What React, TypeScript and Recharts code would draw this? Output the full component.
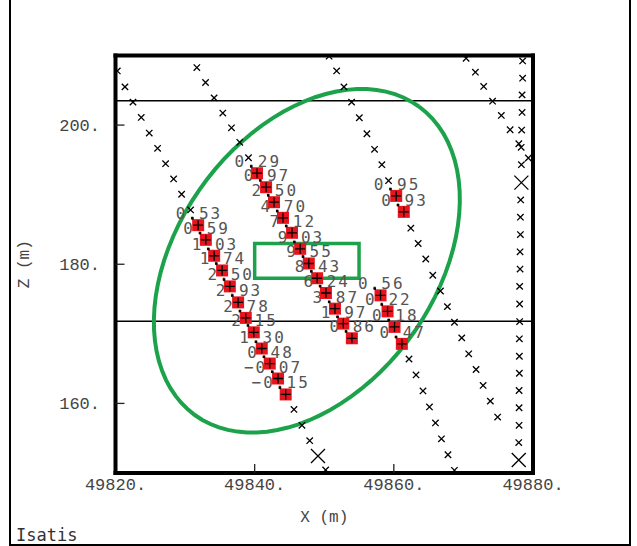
import React from "react";
import {
  ScatterChart,
  Scatter,
  XAxis,
  YAxis,
  ReferenceLine,
  ReferenceArea,
} from "recharts";

const W = 637;
const H = 546;

const X_TICKS = [49820, 49840, 49860, 49880];
const Z_TICKS = [160, 180, 200];

// sampled intervals along the holes: X, Z, grade
const SAMPLE_X = [
  49831.88, 49832.98, 49834.18, 49835.32, 49836.43, 49837.62, 49838.72, 49839.87, 49841.02, 49842.17, 49843.36, 49844.46,
  49840.34, 49841.64, 49842.78, 49844.07, 49845.37, 49846.54, 49847.78, 49848.98, 49850.24, 49851.54, 49852.74, 49853.97,
  49860.34, 49861.43,
  49858.09, 49859.1, 49860.1, 49861.15,
];
const SAMPLE_Z = [
  185.62, 183.51, 181.22, 179.11, 176.82, 174.52, 172.29, 170.22, 167.89, 165.73, 163.58, 161.29,
  193.08, 191.07, 188.92, 186.67, 184.52, 182.22, 180.11, 177.99, 175.87, 173.62, 171.47, 169.36,
  189.82, 187.53,
  175.53, 173.23, 171.0, 168.56,
];
const SAMPLE_VAL = [
  0.53, 0.59, 1.03, 1.74, 2.5, 2.93, 2.78, 2.15, 1.3, 0.48, -0.07, -0.15,
  0.29, 0.97, 2.5, 4.7, 7.12, 9.03, 9.55, 8.43, 6.24, 3.87, 1.97, 0.86,
  0.95, 0.93,
  0.56, 0.22, 0.18, 0.47,
];

// unsampled points along the holes
const POINT_X = [
  // hole A
  49820.26, 49821.36, 49822.51, 49823.7, 49824.85, 49826.05, 49827.2, 49828.35, 49829.5, 49830.79,
  49845.65, 49846.8, 49847.91, 49850.2,
  // hole B
  49831.69, 49832.94, 49834.17, 49835.42, 49836.67, 49837.86, 49839.11,
  // hole C
  49850.7, 49851.78, 49852.83, 49853.93, 49855.04, 49856.13, 49857.23, 49858.28, 49859.24,
  49862.44, 49863.5, 49864.59, 49865.6, 49866.7, 49867.7, 49868.71, 49869.76, 49870.76, 49871.82, 49872.83, 49873.87, 49874.92,
  // hole D
  49862.18, 49863.19, 49864.19, 49865.12, 49865.98, 49866.84, 49867.78, 49868.71,
  // hole E
  49870.39, 49871.72, 49872.91, 49874.19, 49875.45, 49876.71, 49877.96, 49879.33,
  // hole F
  49878.51, 49878.51, 49878.43, 49878.43, 49878.37, 49878.3, 49878.33, 49878.23, 49878.19, 49878.19, 49878.14,
  49878.14, 49878.08, 49878.08, 49878.08, 49878.04, 49878.04, 49878.04, 49878.0, 49878.0, 49878.0, 49877.95,
];
const POINT_Z = [
  207.78, 205.49, 203.3, 201.1, 198.85, 196.66, 194.45, 192.26, 190.06, 187.81,
  159.14, 156.85, 154.65, 150.44,
  208.27, 206.12, 203.91, 201.72, 199.61, 197.52, 195.31,
  209.9, 207.78, 205.49, 203.3, 201.05, 198.75, 196.52, 194.31, 192.01,
  185.19, 182.98, 180.75, 178.42, 176.16, 173.91, 171.66, 169.42, 167.13, 164.87, 162.58, 160.33, 158.04,
  166.38, 164.09, 161.79, 159.5, 157.2, 154.91, 152.62, 150.39,
  209.6, 207.6, 205.55, 203.44, 201.39, 199.33, 197.32, 195.27,
  209.22, 206.74, 204.34, 201.82, 199.28, 196.8, 194.31, 189.25, 186.77, 184.27, 181.79,
  179.31, 176.82, 174.29, 171.76, 169.28, 166.78, 164.34, 161.86, 159.38, 156.85, 154.37,
];

// hole ends (big crosses)
const END_X = [49849.1, 49878.33, 49877.95];
const END_Z = [152.44, 191.73, 151.87];

const LAYER_Z = [203.5, 171.8];
const BLOCK_X = [49840, 49855];
const BLOCK_Z = [178, 183];

// search ellipse
const ELL_CENTER = [49847.5, 180.5];
const ELL_RADII = [27.4, 18.5];
const ELL_ANGLE = 54;

const GREEN = "#1ca24b";
const MONO = "'Liberation Mono', monospace";
const LABEL_FONT = "'DejaVu Sans Mono', monospace";
const LABEL_SIZE = 16;
const LABEL_SPACING = 2;

const points = POINT_X.map((x, i) => ({ x, z: POINT_Z[i] }));
const ends = END_X.map((x, i) => ({ x, z: END_Z[i] }));
const samples = SAMPLE_X.map((x, i) => ({ x, z: SAMPLE_Z[i], v: SAMPLE_VAL[i] }));

const rot = (ELL_ANGLE * Math.PI) / 180;
const ellipse = Array.from({ length: 91 }, (_, i) => {
  const t = (i / 90) * 2 * Math.PI;
  const u = ELL_RADII[0] * Math.cos(t);
  const w = ELL_RADII[1] * Math.sin(t);
  return {
    x: ELL_CENTER[0] + u * Math.cos(rot) - w * Math.sin(rot),
    z: ELL_CENTER[1] + u * Math.sin(rot) + w * Math.cos(rot),
  };
});

const axisLine = { stroke: "#000", strokeWidth: 4, strokeLinecap: "square" as const };
const tickLine = { stroke: "#222", strokeWidth: 1.3 };
const tickText = { fontFamily: MONO, fontSize: 17, fill: "#444" };
const fmt = (v: number) => `${v}.`;

function Cross(props: any) {
  const { cx, cy } = props;
  const s = 3.2;
  return (
    <path
      d={`M${cx - s},${cy - s}L${cx + s},${cy + s}M${cx - s},${cy + s}L${cx + s},${cy - s}`}
      stroke="#000"
      strokeWidth={1.3}
    />
  );
}

function BigCross(props: any) {
  const { cx, cy } = props;
  const s = 7;
  return (
    <path
      d={`M${cx - s},${cy - s}L${cx + s},${cy + s}M${cx - s},${cy + s}L${cx + s},${cy - s}`}
      stroke="#000"
      strokeWidth={1.3}
    />
  );
}

function SampleLabel(props: any) {
  const { cx, cy, payload } = props;
  const label = payload.v.toFixed(2).replace("-", "\u2212");
  const adv = LABEL_SIZE * 0.602;
  const idx = label.indexOf(".");
  const dx = cx - 6;
  const dy = cy - 7;
  return (
    <text
      x={dx - idx * (adv + LABEL_SPACING) - adv / 2}
      y={dy + 1}
      fontFamily={LABEL_FONT}
      fontSize={LABEL_SIZE}
      letterSpacing={LABEL_SPACING}
      fill="#555"
    >
      {label}
    </text>
  );
}

function SampleBox(props: any) {
  const { cx, cy } = props;
  return (
    <g>
      <rect x={cx - 6} y={cy - 6} width={12} height={12} fill="#e8141d" />
      <path d={`M${cx - 5},${cy}H${cx + 5}M${cx},${cy - 5}V${cy + 5}`} stroke="#000" strokeWidth={1.3} />
      <rect x={cx - 7} y={cy - 8} width={2.5} height={2.5} fill="#000" />
    </g>
  );
}

const Empty = () => <g />;

export default function App() {
  return (
    <div style={{ position: "absolute", left: 0, top: 0, width: W, height: H, background: "#fff" }}>
      <svg width={W} height={H} style={{ position: "absolute", left: 0, top: 0 }}>
        <path d={`M10,0V545H630V0`} fill="none" stroke="#000" strokeWidth={2} />
        <text x={16} y={541} fontFamily={LABEL_FONT} fontSize={17} fill="#333">
          Isatis
        </text>
      </svg>
      <div style={{ position: "absolute", left: 0, top: 0 }}>
        <ScatterChart width={W} height={H} margin={{ top: 54.5, right: 103, bottom: 0, left: 0 }}>
          <XAxis
            dataKey="x"
            type="number"
            domain={[49820, 49880]}
            ticks={X_TICKS}
            tickFormatter={fmt}
            allowDataOverflow
            height={73}
            axisLine={axisLine}
            tickLine={tickLine}
            tickSize={-9}
            tickMargin={14}
            tick={tickText}
            label={{
              value: "X (m)",
              position: "insideBottom",
              offset: 24,
              style: { fontFamily: MONO, fontSize: 16, fill: "#444" },
            }}
          />
          <XAxis
            xAxisId="top"
            orientation="top"
            type="number"
            domain={[49820, 49880]}
            ticks={X_TICKS}
            allowDataOverflow
            height={1}
            axisLine={axisLine}
            tickLine={tickLine}
            tickSize={-9}
            tick={false}
          />
          <YAxis
            dataKey="z"
            type="number"
            domain={[150, 210]}
            ticks={Z_TICKS}
            tickFormatter={fmt}
            allowDataOverflow
            width={115.5}
            axisLine={axisLine}
            tickLine={tickLine}
            tickSize={-9}
            tickMargin={24.5}
            tick={tickText}
            label={{
              value: "Z (m)",
              angle: -90,
              position: "insideLeft",
              offset: 23,
              style: { textAnchor: "middle", fontFamily: MONO, fontSize: 16, fill: "#444" },
            }}
          />
          <YAxis
            yAxisId="right"
            orientation="right"
            type="number"
            domain={[150, 210]}
            ticks={Z_TICKS}
            allowDataOverflow
            width={1}
            axisLine={axisLine}
            tickLine={tickLine}
            tickSize={-9}
            tick={false}
          />
          {LAYER_Z.map((z) => (
            <ReferenceLine key={z} y={z} stroke="#000" strokeWidth={1.6} />
          ))}
          <ReferenceArea
            x1={BLOCK_X[0]}
            x2={BLOCK_X[1]}
            y1={BLOCK_Z[0]}
            y2={BLOCK_Z[1]}
            fill="none"
            stroke={GREEN}
            strokeWidth={3.5}
          />
          <Scatter
            data={ellipse}
            line={{ stroke: GREEN, strokeWidth: 4 }}
            lineType="joint"
            fill="none"
            shape={Empty}
            isAnimationActive={false}
          />
          <Scatter data={points} shape={Cross} isAnimationActive={false} />
          <Scatter data={ends} shape={BigCross} isAnimationActive={false} />
          <Scatter data={samples} shape={SampleLabel} isAnimationActive={false} />
          <Scatter data={samples} shape={SampleBox} isAnimationActive={false} />
        </ScatterChart>
      </div>
    </div>
  );
}
